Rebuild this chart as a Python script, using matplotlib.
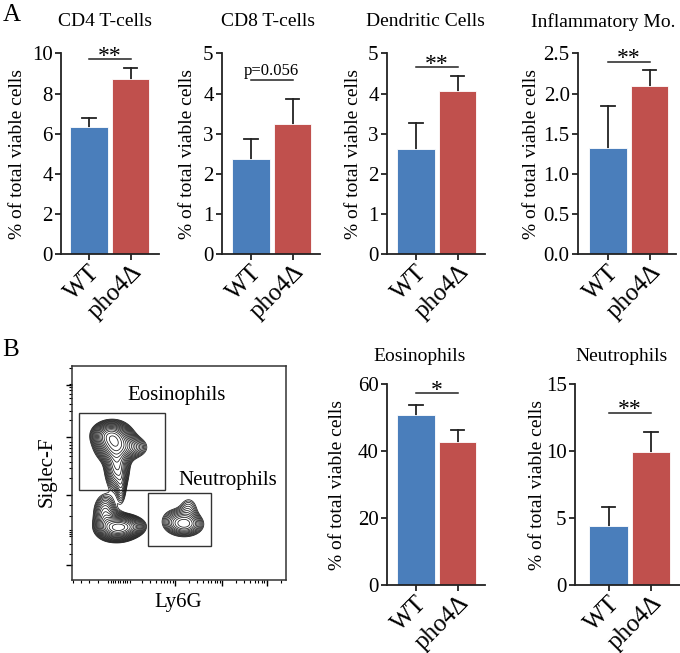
import numpy as np
import matplotlib
matplotlib.use("Agg")
import matplotlib.pyplot as plt
from matplotlib.patches import Rectangle

plt.rcParams['font.family'] = ['Liberation Serif', 'DejaVu Serif']

# ---- data ----
groups = ["WT", "pho4\u0394"]

cd4_mean = [6.31, 8.75]
cd4_err = [0.45, 0.53]
cd8_mean = [2.37, 3.24]
cd8_err = [0.50, 0.63]
dc_mean = [2.62, 4.07]
dc_err = [0.65, 0.36]
infl_mean = [1.32, 2.09]
infl_err = [0.53, 0.21]
eos_mean = [50.7, 42.6]
eos_err = [3.0, 3.7]
neu_mean = [4.43, 9.90]
neu_err = [1.41, 1.54]

# significance bar heights and labels
sig_cd4, sig_cd8, sig_dc, sig_infl, sig_eos, sig_neu = 9.73, 4.35, 4.67, 2.40, 57.2, 12.86

# flow cytometry populations (axes units): centre x, centre y, sd x, sd y, weight
pop_cx = [0.20, 0.17, 0.28, 0.21, 0.23, 0.21, 0.155, 0.27, 0.53, 0.48, 0.545]
pop_cy = [0.64, 0.68, 0.62, 0.53, 0.43, 0.245, 0.31, 0.25, 0.26, 0.28, 0.33]
pop_sx = [0.045, 0.04, 0.045, 0.03, 0.014, 0.045, 0.03, 0.04, 0.045, 0.04, 0.03]
pop_sy = [0.045, 0.03, 0.03, 0.06, 0.05, 0.03, 0.05, 0.025, 0.03, 0.035, 0.04]
pop_w = [1.0, 0.5, 0.22, 0.5, 0.16, 1.2, 0.35, 0.4, 0.42, 0.15, 0.13]

blue = '#4a7ebb'
red = '#c0504d'
ink = '#222222'

W, H = 680, 653
fig = plt.figure(figsize=(6.8, 6.53), dpi=100)


def fx(px):
    return px / W


def fy(py):
    return 1 - py / H


def bar_panel(spine_x, c0, top_y, bot_y, means, errs, ymax, ystep, sig_y, sig_txt,
              title, title_x, title_y, ylab_x, fmt="{:.0f}", span=98, unit=41.5):
    ax = fig.add_axes([fx(spine_x), fy(bot_y), span / W, (bot_y - top_y) / H])
    pos = np.arange(2)
    ax.bar(pos, means, width=0.915, color=[blue, red], edgecolor='white',
           linewidth=0.6, zorder=2)
    # upper-only error bars
    for p, m, e in zip(pos, means, errs):
        ax.plot([p, p], [m, m + e], color=ink, lw=1.3, zorder=1)
        ax.plot([p - 0.16, p + 0.16], [m + e, m + e], color=ink, lw=1.3, zorder=1)
    ax.set_xlim((spine_x - c0) / unit, (spine_x + span - c0) / unit)
    ax.set_ylim(0, ymax)
    ticks = np.arange(0, ymax + ystep / 2, ystep)
    ax.set_yticks(ticks)
    ax.set_yticklabels([fmt.format(t) for t in ticks], fontsize=15)
    ax.set_xticks(pos)
    ax.set_xticklabels(groups, rotation=45, ha='right', rotation_mode='anchor',
                       fontsize=18)
    for s in ['top', 'right']:
        ax.spines[s].set_visible(False)
    for s in ['left', 'bottom']:
        ax.spines[s].set_linewidth(1.3)
        ax.spines[s].set_color(ink)
    ax.tick_params(length=4, width=1.3, color=ink, pad=2)
    ax.tick_params(axis='x', pad=1)
    ax.plot([0, 1], [sig_y, sig_y], color=ink, lw=1.1, clip_on=False)
    if sig_txt.startswith('p'):
        ax.annotate(sig_txt, xy=(0.5, sig_y), xytext=(0, 3), textcoords='offset points',
                    ha='center', va='baseline', fontsize=12)
    else:
        ax.annotate(sig_txt, xy=(0.5, sig_y), xytext=(0, -2), textcoords='offset points',
                    ha='center', va='baseline', fontsize=17)
    fig.text(fx(title_x), fy(title_y), title, ha='center', va='center', fontsize=14)
    fig.text(fx(ylab_x), fy((top_y + bot_y) / 2), "% of total viable cells",
             rotation=90, ha='center', va='center', fontsize=14)
    return ax


# panel A
bar_panel(61, 89, 53.5, 254, cd4_mean, cd4_err, 10, 2, sig_cd4, "**",
          "CD4 T-cells", 105, 21.7, 18)
bar_panel(222, 251, 53.5, 254, cd8_mean, cd8_err, 5, 1, sig_cd8, "p=0.056",
          "CD8 T-cells", 268, 21.7, 188)
bar_panel(387, 416, 53.5, 254, dc_mean, dc_err, 5, 1, sig_dc, "**",
          "Dendritic Cells", 425, 21.7, 353)
bar_panel(578, 608, 53.5, 254, infl_mean, infl_err, 2.5, 0.5, sig_infl, "**",
          "Inflammatory Mo.", 603, 21.7, 532, fmt="{:.1f}")

# panel B bars
bar_panel(387, 416, 384, 585, eos_mean, eos_err, 60, 20, sig_eos, "*",
          "Eosinophils", 420, 357, 338)
bar_panel(575, 608.5, 384, 585, neu_mean, neu_err, 15, 5, sig_neu, "**",
          "Neutrophils", 622, 357, 537, span=105, unit=42.5)

# panel B flow plot
axf = fig.add_axes([fx(72), fy(580), 214 / W, 214 / H])
gx = np.linspace(0, 1, 400)
X, Y = np.meshgrid(gx, gx)
Z = np.zeros_like(X)
for cx, cy, sx, sy, w in zip(pop_cx, pop_cy, pop_sx, pop_sy, pop_w):
    Z += w * np.exp(-0.5 * (((X - cx) / sx) ** 2 + ((Y - cy) / sy) ** 2))
levels = np.geomspace(0.07, 1.2, 18)
axf.contour(X, Y, Z, levels=levels, colors='#1a1a1a', linewidths=0.55)
axf.add_patch(Rectangle((0.035, 0.42), 0.40, 0.36, fill=False, lw=1.0, ec='#333333'))
axf.add_patch(Rectangle((0.355, 0.16), 0.295, 0.245, fill=False, lw=1.0, ec='#333333'))
axf.text(0.49, 0.86, "Eosinophils", ha='center', va='center', fontsize=15,
         transform=axf.transAxes)
axf.text(0.73, 0.465, "Neutrophils", ha='center', va='center', fontsize=15,
         transform=axf.transAxes)
axf.set_xlim(0, 1)
axf.set_ylim(0, 1)
for s in axf.spines.values():
    s.set_linewidth(1.1)
    s.set_color('#333333')


def log_minor(majors, step):
    out = []
    for d0 in majors:
        for k in range(2, 10):
            v = d0 + step * np.log10(k)
            if 0 < v < 1:
                out.append(v)
    return out


ymaj = [0.07, 0.397, 0.668, 0.911]
ymin = log_minor([0.397, 0.668, 0.911], 0.26) + [0.12, 0.17, 0.205, 0.215, 0.225, 0.235, 0.30, 0.35]
xmaj = [0.48, 0.70, 0.91]
xmin = log_minor([0.26, 0.48, 0.70, 0.91], 0.22) + [0.005, 0.04, 0.08, 0.12] + list(np.arange(0.17, 0.27, 0.011))
axf.set_yticks(ymaj)
axf.set_yticks(ymin, minor=True)
axf.set_xticks(xmaj)
axf.set_xticks(xmin, minor=True)
axf.tick_params(which='major', length=4, width=1.0, labelleft=False, labelbottom=False)
axf.tick_params(which='minor', length=2.2, width=0.8)
fig.text(fx(47), fy(472), "Siglec-F", rotation=90, ha='center', va='center', fontsize=15)
fig.text(fx(178), fy(602), "Ly6G", ha='center', va='center', fontsize=15)

# panel letters
fig.text(fx(12), fy(15), "A", ha='center', va='center', fontsize=18)
fig.text(fx(11), fy(350), "B", ha='center', va='center', fontsize=18)

fig.savefig("out.png", dpi=100)
